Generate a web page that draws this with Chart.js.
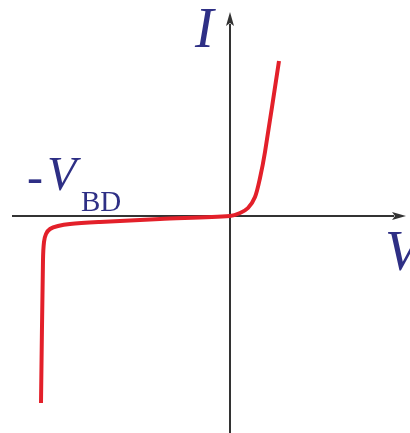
<!DOCTYPE html>
<html>
<head>
<meta charset="utf-8">
<script src="https://cdn.jsdelivr.net/npm/chart.js@4/dist/chart.umd.min.js"></script>
<style>
  html, body { margin: 0; padding: 0; background: #fff; }
  canvas { display: block; }
</style>
</head>
<body>
<canvas id="iv-chart" width="410" height="433"></canvas>
<script>
// Diode I-V characteristic, traced from reverse breakdown up to forward conduction
const voltage = [-18.9, -18.7, -18.6, -18.4, -18.0, -17.2, -16.0, -13.0, -7.0, 0, 1.0, 1.8, 2.5, 3.0, 3.5, 4.9];
const current = [-18.7, -4.4, -2.6, -1.8, -1.3, -1.0, -0.8, -0.6, -0.3, 0, 0.3, 0.8, 1.9, 3.8, 6.4, 15.5];

// Axis extents (same units as the curve)
const xAxisEnds = [-21.8, 17.6];
const yAxisEnds = [-21.7, 20.4];

const ink = '#2e2f85';
const axisColor = '#333333';

// Labels placed in axis units
const labels = [
    { text: 'I', x: -3.5, y: 16.9, font: 'italic 56px "Liberation Serif"' },
    { text: 'V', x: 15.5, y: -5.4, font: 'italic 56px "Liberation Serif"' },
    { text: '-', x: -20.3, y: 2.3, font: '48px "Liberation Serif"' },
    { text: 'V', x: -18.3, y: 2.6, font: 'italic 48px "Liberation Serif"' },
    { text: 'BD', x: -14.9, y: 0.5, font: '29px "Liberation Serif"' }
];

const curve = voltage.map((v, i) => ({ x: v, y: current[i] }));

// Arrowheads at the positive ends of both axes, plus the text labels
const axisDecor = {
    id: 'axisDecor',
    afterDatasetsDraw(chart) {
        const { ctx, scales: { x, y } } = chart;
        const x0 = x.getPixelForValue(0);
        const y0 = y.getPixelForValue(0);
        const xTip = x.getPixelForValue(xAxisEnds[1]);
        const yTip = y.getPixelForValue(yAxisEnds[1]);

        ctx.save();
        ctx.fillStyle = axisColor;
        // horizontal arrow
        ctx.beginPath();
        ctx.moveTo(xTip, y0);
        ctx.lineTo(xTip - 14, y0 - 4);
        ctx.lineTo(xTip - 11, y0);
        ctx.lineTo(xTip - 14, y0 + 4);
        ctx.closePath();
        ctx.fill();
        // vertical arrow
        ctx.beginPath();
        ctx.moveTo(x0, yTip);
        ctx.lineTo(x0 - 4, yTip + 14);
        ctx.lineTo(x0, yTip + 11);
        ctx.lineTo(x0 + 4, yTip + 14);
        ctx.closePath();
        ctx.fill();

        ctx.fillStyle = ink;
        ctx.textBaseline = 'alphabetic';
        ctx.textAlign = 'left';
        labels.forEach(l => {
            ctx.font = l.font;
            ctx.fillText(l.text, x.getPixelForValue(l.x), y.getPixelForValue(l.y));
        });
        ctx.restore();
    }
};

new Chart(document.getElementById('iv-chart'), {
    type: 'scatter',
    data: {
        datasets: [
            {
                label: 'V axis',
                data: [{ x: xAxisEnds[0], y: 0 }, { x: xAxisEnds[1] - 1.2, y: 0 }],
                showLine: true,
                borderColor: axisColor,
                borderWidth: 2,
                pointRadius: 0,
                order: 2
            },
            {
                label: 'I axis',
                data: [{ x: 0, y: yAxisEnds[0] }, { x: 0, y: yAxisEnds[1] - 1.2 }],
                showLine: true,
                borderColor: axisColor,
                borderWidth: 2,
                pointRadius: 0,
                order: 2
            },
            {
                label: 'I(V)',
                data: curve,
                showLine: true,
                borderColor: '#e3202a',
                borderWidth: 4,
                tension: 0.3,
                pointRadius: 0,
                borderCapStyle: 'butt',
                order: 1
            }
        ]
    },
    options: {
        responsive: false,
        animation: false,
        layout: { padding: 0 },
        plugins: {
            legend: { display: false },
            tooltip: { enabled: false }
        },
        scales: {
            x: { type: 'linear', min: -23, max: 18, display: false },
            y: { type: 'linear', min: -21.7, max: 21.6, display: false }
        }
    },
    plugins: [axisDecor]
});
</script>
</body>
</html>
